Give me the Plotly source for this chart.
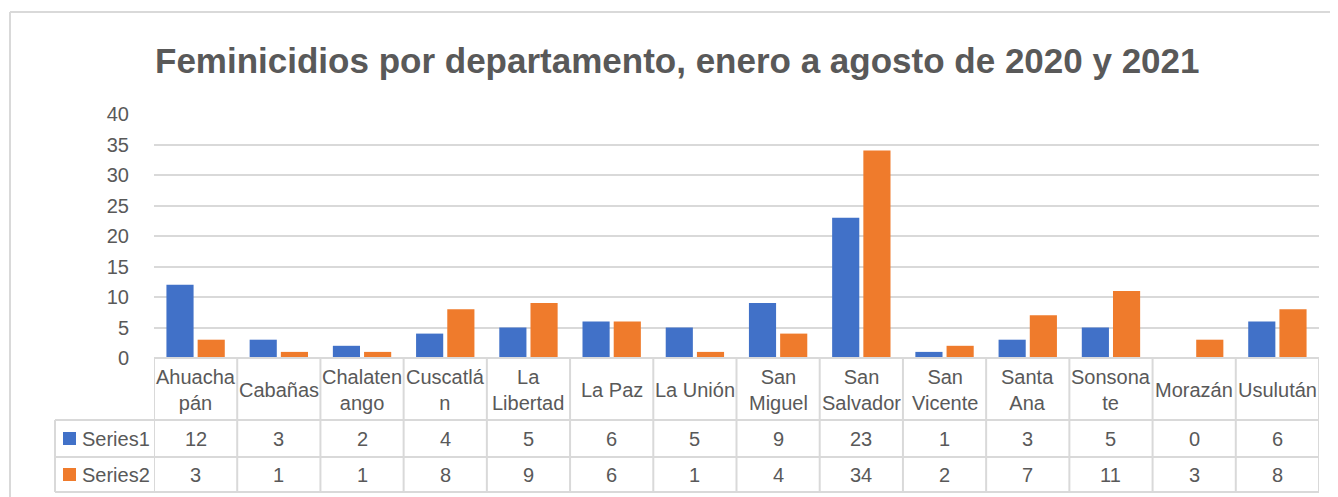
import plotly.graph_objects as go

# ---- data ----
categories = ["Ahuachapán", "Cabañas", "Chalatenango", "Cuscatlán", "La Libertad", "La Paz",
              "La Unión", "San Miguel", "San Salvador", "San Vicente", "Santa Ana", "Sonsonate",
              "Morazán", "Usulután"]
category_labels = ["Ahuacha<br>pán", "Cabañas", "Chalaten<br>ango", "Cuscatlá<br>n", "La<br>Libertad",
                   "La Paz", "La Unión", "San<br>Miguel", "San<br>Salvador", "San<br>Vicente",
                   "Santa<br>Ana", "Sonsona<br>te", "Morazán", "Usulután"]
series_names = ["Series1", "Series2"]
series1 = [12, 3, 2, 4, 5, 6, 5, 9, 23, 1, 3, 5, 0, 6]
series2 = [3, 1, 1, 8, 9, 6, 1, 4, 34, 2, 7, 11, 3, 8]
title_text = "Feminicidios por departamento, enero a agosto de 2020 y 2021"
y_ticks = [0, 5, 10, 15, 20, 25, 30, 35, 40]

# ---- styles ----
PAGE_OFF = 8                      # default body margin of the html page
W_FIG, H_FIG = 1338 - PAGE_OFF, 497 - PAGE_OFF
# plot-area edges in page pixels
L, R, T, B = 154, 1319, 114, 358
PW, PH = R - L, B - T
FONT = "Liberation Sans, Arial, sans-serif"
TXT = "#595959"
GRID = "#D9D9D9"
COLORS = ["#4171C8", "#EF7B2C"]


def px(x):
    return (x - L) / PW


def py(y):
    return (B - y) / PH


fig = go.Figure()
for name, vals, col in zip(series_names, [series1, series2], COLORS):
    fig.add_trace(go.Bar(x=categories, y=vals, name=name, marker=dict(color=col, line=dict(width=0))))

shapes = []
annotations = []

# yellow box at top (mostly above the visible area)
shapes.append(dict(type="rect", xref="paper", yref="paper", x0=px(43), x1=px(541), y0=py(5), y1=py(-5),
                   fillcolor="#FFF2CC", line=dict(color="#FFD966", width=1.5), layer="below"))
# chart outer border
shapes.append(dict(type="line", xref="paper", yref="paper", x0=px(10), x1=px(10), y0=py(12), y1=py(505),
                   line=dict(color=GRID, width=2)))
shapes.append(dict(type="line", xref="paper", yref="paper", x0=px(10), x1=px(1345), y0=py(12), y1=py(12),
                   line=dict(color=GRID, width=2)))

# title
annotations.append(dict(text=title_text, xref="paper", yref="paper", x=px(677), y=py(60),
                        xanchor="center", yanchor="middle", showarrow=False,
                        font=dict(family=FONT, size=35, color=TXT, weight="bold")))

# data table
ROW1, ROW2, ROW3, ROW4 = 358, 420, 457, 492
n = len(categories)
tl = dict(color=GRID, width=2)
shapes.append(dict(type="line", xref="paper", yref="paper", x0=px(L), x1=px(R), y0=py(ROW1), y1=py(ROW1), line=tl))
for yy in [ROW2, ROW3, ROW4]:
    shapes.append(dict(type="line", xref="paper", yref="paper", x0=px(55), x1=px(R), y0=py(yy), y1=py(yy), line=tl))
shapes.append(dict(type="line", xref="paper", yref="paper", x0=px(55), x1=px(55), y0=py(ROW2), y1=py(ROW4), line=tl))
for i in range(n + 1):
    shapes.append(dict(type="line", xref="x", yref="paper", x0=i - 0.5, x1=i - 0.5,
                       y0=py(ROW1), y1=py(ROW4), line=tl))

for i, (lab, v1, v2) in enumerate(zip(category_labels, series1, series2)):
    annotations.append(dict(text=lab, xref="x", yref="paper", x=categories[i], y=py((ROW1 + ROW2) / 2 + 1),
                            xanchor="center", yanchor="middle", showarrow=False, align="center",
                            font=dict(family=FONT, size=20, color=TXT)))
    for val, (r0, r1) in zip([v1, v2], [(ROW2, ROW3), (ROW3, ROW4)]):
        annotations.append(dict(text=str(val), xref="x", yref="paper", x=categories[i], y=py((r0 + r1) / 2),
                                xanchor="center", yanchor="middle", showarrow=False,
                                font=dict(family=FONT, size=20, color=TXT)))

for name, col, (r0, r1) in zip(series_names, COLORS, [(ROW2, ROW3), (ROW3, ROW4)]):
    cy = (r0 + r1) / 2
    shapes.append(dict(type="rect", xref="paper", yref="paper", x0=px(63), x1=px(76), y0=py(cy + 6.5), y1=py(cy - 6.5),
                       fillcolor=col, line=dict(width=0)))
    annotations.append(dict(text=name, xref="paper", yref="paper", x=px(80), y=py(cy),
                            xanchor="left", yanchor="middle", showarrow=False,
                            font=dict(family=FONT, size=20, color=TXT)))

fig.update_layout(
    width=W_FIG, height=H_FIG, autosize=False,
    margin=dict(l=L - PAGE_OFF, r=1338 - R, t=T - PAGE_OFF, b=497 - B, pad=0),
    paper_bgcolor="white", plot_bgcolor="white",
    barmode="group", bargap=0.25, bargroupgap=0.13,
    showlegend=False,
    font=dict(family=FONT, color=TXT),
    shapes=shapes, annotations=annotations,
    xaxis=dict(type="category", showticklabels=False, showgrid=False, zeroline=False, showline=False,
               range=[-0.5, n - 0.5], fixedrange=True),
    yaxis=dict(range=[0, 40], tickvals=y_ticks, showgrid=True, gridcolor=GRID, gridwidth=1.5,
               zeroline=False, showline=False, ticks="outside", ticklen=20, tickcolor="rgba(0,0,0,0)",
               tickfont=dict(family=FONT, size=20, color=TXT), fixedrange=True),
)

fig.write_html("out.html")
